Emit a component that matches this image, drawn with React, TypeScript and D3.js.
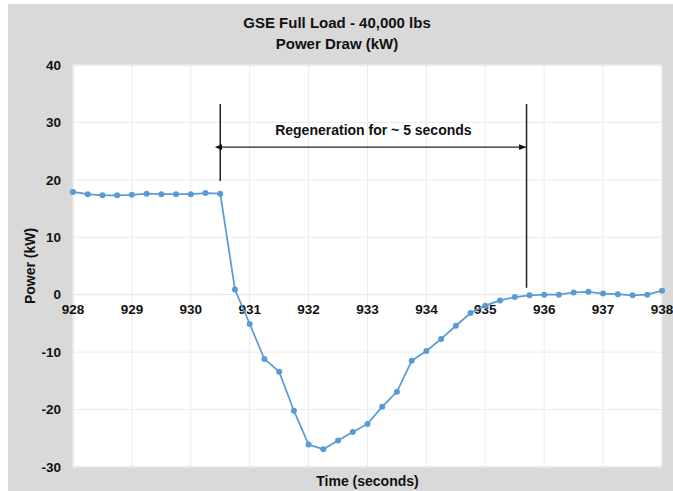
import React, { useEffect, useRef } from 'react';
import * as d3 from 'd3';

// time stamps (seconds) and power draw (kW)
const times = [
  928.0, 928.25, 928.5, 928.75, 929.0, 929.25, 929.5, 929.75, 930.0, 930.25,
  930.5, 930.75, 931.0, 931.25, 931.5, 931.75, 932.0, 932.25, 932.5, 932.75,
  933.0, 933.25, 933.5, 933.75, 934.0, 934.25, 934.5, 934.75, 935.0, 935.25,
  935.5, 935.75, 936.0, 936.25, 936.5, 936.75, 937.0, 937.25, 937.5, 937.75,
  938.0,
];
const power = [
  17.9, 17.5, 17.3, 17.3, 17.4, 17.6, 17.5, 17.5, 17.5, 17.7,
  17.6, 0.9, -5.1, -11.2, -13.4, -20.2, -26.1, -26.9, -25.4, -23.9,
  -22.5, -19.5, -16.9, -11.5, -9.8, -7.7, -5.4, -3.2, -1.9, -1.0,
  -0.4, -0.1, 0.0, 0.0, 0.4, 0.5, 0.2, 0.1, -0.1, 0.0,
  0.7,
];
const xTicks = [928, 929, 930, 931, 932, 933, 934, 935, 936, 937, 938];
const yTicks = [-30, -20, -10, 0, 10, 20, 30, 40];

// annotation (data coords)
const regenStart = 930.5;
const regenEnd = 935.7;
const regenTop = 33.2;
const regenStartBottom = 19.8;
const regenEndBottom = 1.2;
const regenArrowY = 25.7;
const regenLabel = 'Regeneration for ~ 5 seconds';

const W = 673;
const H = 491;
const margin = { top: 65, right: 11, bottom: 24, left: 73 };
const font = '"Liberation Sans", Arial, sans-serif';

const App = () => {
  const ref = useRef<SVGSVGElement>(null);

  useEffect(() => {
    const svg = d3.select(ref.current);
    svg.selectAll('*').remove();

    const x = d3.scaleLinear().domain([928, 938]).range([margin.left, W - margin.right]);
    const y = d3.scaleLinear().domain([-30, 40]).range([H - margin.bottom, margin.top]);

    const defs = svg.append('defs');
    ['start', 'end'].forEach(k => {
      defs
        .append('marker')
        .attr('id', 'arr-' + k)
        .attr('viewBox', '0 0 10 10')
        .attr('refX', k === 'end' ? 9 : 1)
        .attr('refY', 5)
        .attr('markerWidth', 6)
        .attr('markerHeight', 6)
        .attr('orient', 'auto-start-reverse')
        .append('path')
        .attr('d', 'M0,1 L10,5 L0,9 Z')
        .attr('fill', '#111');
    });

    // chart background
    svg.append('rect').attr('x', 8).attr('y', 4).attr('width', W - 8).attr('height', H - 4).attr('fill', '#d9d9d9');

    // plot area
    svg
      .append('rect')
      .attr('x', x(928))
      .attr('y', y(40))
      .attr('width', x(938) - x(928))
      .attr('height', y(-30) - y(40))
      .attr('fill', '#ffffff')
      .attr('stroke', '#e4e4e4');

    // gridlines
    svg
      .append('g')
      .selectAll('line')
      .data(xTicks)
      .join('line')
      .attr('x1', d => x(d))
      .attr('x2', d => x(d))
      .attr('y1', y(40))
      .attr('y2', y(-30))
      .attr('stroke', '#ececec');
    svg
      .append('g')
      .selectAll('line')
      .data(yTicks)
      .join('line')
      .attr('x1', x(928))
      .attr('x2', x(938))
      .attr('y1', d => y(d))
      .attr('y2', d => y(d))
      .attr('stroke', d => (d === 0 ? '#e2e2e2' : '#ececec'));

    // tick labels
    svg
      .append('g')
      .selectAll('text')
      .data(yTicks)
      .join('text')
      .attr('x', x(928) - 12)
      .attr('y', d => y(d))
      .attr('dy', '0.35em')
      .attr('text-anchor', 'end')
      .attr('font-family', font)
      .attr('font-weight', 'bold')
      .attr('font-size', 13.5)
      .attr('fill', '#111')
      .text(d => d);
    svg
      .append('g')
      .selectAll('text')
      .data(xTicks)
      .join('text')
      .attr('x', d => x(d))
      .attr('y', y(0) + 19)
      .attr('text-anchor', 'middle')
      .attr('font-family', font)
      .attr('font-weight', 'bold')
      .attr('font-size', 13.5)
      .attr('fill', '#111')
      .text(d => d);

    // series
    const pts = times.map((t, i) => [t, power[i]] as [number, number]);
    const line = d3
      .line<[number, number]>()
      .x(d => x(d[0]))
      .y(d => y(d[1]));
    svg
      .append('path')
      .datum(pts)
      .attr('d', line)
      .attr('fill', 'none')
      .attr('stroke', '#5b9bd5')
      .attr('stroke-width', 1.75);
    svg
      .append('g')
      .selectAll('circle')
      .data(pts)
      .join('circle')
      .attr('cx', d => x(d[0]))
      .attr('cy', d => y(d[1]))
      .attr('r', 3)
      .attr('fill', '#5b9bd5');

    // annotation
    const ann = svg.append('g').attr('stroke', '#222').attr('stroke-width', 1.5);
    ann
      .append('line')
      .attr('x1', x(regenStart))
      .attr('x2', x(regenStart))
      .attr('y1', y(regenTop))
      .attr('y2', y(regenStartBottom));
    ann
      .append('line')
      .attr('x1', x(regenEnd))
      .attr('x2', x(regenEnd))
      .attr('y1', y(regenTop))
      .attr('y2', y(regenEndBottom));
    ann
      .append('line')
      .attr('x1', x(regenStart) + 1)
      .attr('x2', x(regenEnd) - 1)
      .attr('y1', y(regenArrowY))
      .attr('y2', y(regenArrowY))
      .attr('stroke-width', 1.2)
      .attr('marker-start', 'url(#arr-start)')
      .attr('marker-end', 'url(#arr-end)');
    svg
      .append('text')
      .attr('x', (x(regenStart) + x(regenEnd)) / 2)
      .attr('y', y(regenArrowY) - 12)
      .attr('text-anchor', 'middle')
      .attr('font-family', font)
      .attr('font-weight', 'bold')
      .attr('font-size', 14)
      .attr('fill', '#111')
      .text(regenLabel);

    // titles
    const title = svg
      .append('text')
      .attr('text-anchor', 'middle')
      .attr('font-family', font)
      .attr('font-weight', 'bold')
      .attr('font-size', 15)
      .attr('fill', '#111');
    title.append('tspan').attr('x', 337).attr('y', 28).text('GSE Full Load - 40,000 lbs');
    title.append('tspan').attr('x', 337).attr('y', 49).text('Power Draw (kW)');

    svg
      .append('text')
      .attr('x', (x(928) + x(938)) / 2)
      .attr('y', 486)
      .attr('text-anchor', 'middle')
      .attr('font-family', font)
      .attr('font-weight', 'bold')
      .attr('font-size', 14)
      .attr('fill', '#111')
      .text('Time (seconds)');

    svg
      .append('text')
      .attr('transform', `translate(35,${(y(40) + y(-30)) / 2}) rotate(-90)`)
      .attr('text-anchor', 'middle')
      .attr('font-family', font)
      .attr('font-weight', 'bold')
      .attr('font-size', 14)
      .attr('fill', '#111')
      .text('Power (kW)');
  }, []);

  return (
    <svg
      ref={ref}
      width={W}
      height={H}
      style={{ position: 'absolute', left: 0, top: 0, display: 'block' }}
    />
  );
};

export default App;
